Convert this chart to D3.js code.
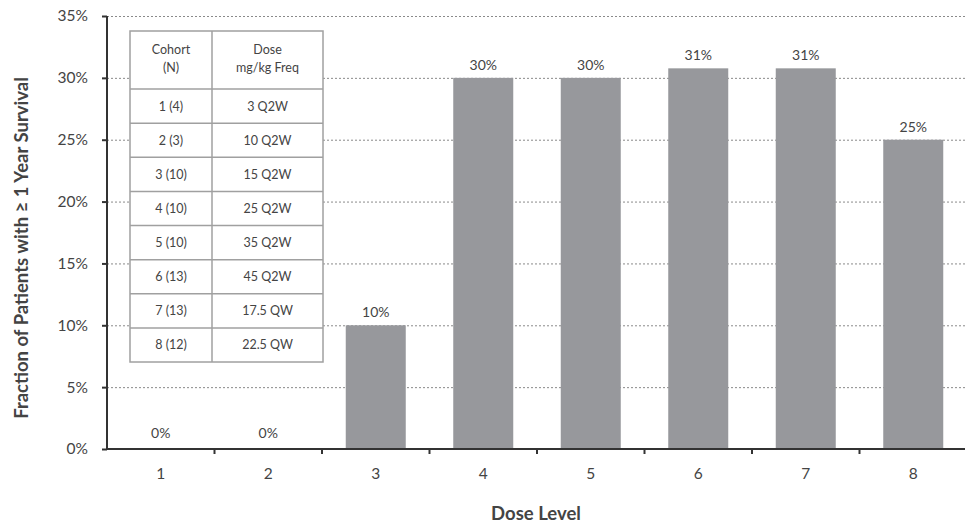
<!DOCTYPE html>
<html>
<head>
<meta charset="utf-8">
<script src="https://cdn.jsdelivr.net/npm/d3@7"></script>
<style>
  html, body { margin: 0; padding: 0; background: #fff; }
  svg { display: block; font-family: Lato, "Open Sans", sans-serif; }
</style>
</head>
<body>
<svg id="chart" width="965" height="526"></svg>
<script>
const doseLevels = ["1", "2", "3", "4", "5", "6", "7", "8"];
const survivalFraction = [0, 0, 0.10, 0.30, 0.30, 0.3077, 0.3077, 0.25];
const yTicks = [0, 0.05, 0.10, 0.15, 0.20, 0.25, 0.30, 0.35];
const tableHeader = [["Cohort", "(N)"], ["Dose", "mg/kg Freq"]];
const cohortLabels = ["1 (4)", "2 (3)", "3 (10)", "4 (10)", "5 (10)", "6 (13)", "7 (13)", "8 (12)"];
const doseLabels = ["3 Q2W", "10 Q2W", "15 Q2W", "25 Q2W", "35 Q2W", "45 Q2W", "17.5 QW", "22.5 QW"];
const xTitle = "Dose Level";
const yTitle = "Fraction of Patients with \u2265 1 Year Survival";

(function () {
const svg = d3.select("#chart");
const pLeft = 107, pRight = 967, pTop = 16, pBottom = 449;

const xb = d3.scaleBand().domain(doseLevels).range([pLeft, pRight]);
const y = d3.scaleLinear().domain([0, 0.35]).range([pBottom, pTop]);

// gridlines
svg.append("g").selectAll("line").data(yTicks.filter(d => d > 0)).join("line")
  .attr("x1", pLeft).attr("x2", 965)
  .attr("y1", d => y(d) + 0.5).attr("y2", d => y(d) + 0.5)
  .attr("stroke", "#8a8a8a").attr("stroke-width", 1).attr("stroke-dasharray", "2,2");

// bars
svg.append("g").selectAll("rect").data(doseLevels).join("rect")
  .attr("x", (d) => xb(d) + (xb.bandwidth() - 60) / 2)
  .attr("width", 60)
  .attr("y", (d, i) => y(survivalFraction[i]))
  .attr("height", (d, i) => pBottom - y(survivalFraction[i]))
  .attr("fill", "#97989c");

// bar labels
svg.append("g").selectAll("text").data(doseLevels).join("text")
  .attr("x", d => xb(d) + xb.bandwidth() / 2)
  .attr("y", (d, i) => y(survivalFraction[i]) - (survivalFraction[i] > 0 ? 8 : 11))
  .attr("text-anchor", "middle")
  .attr("font-size", 14).attr("fill", "#444")
  .text((d, i) => Math.round(survivalFraction[i] * 100) + "%");

// y axis
const yAxis = d3.axisLeft(y).tickValues(yTicks).tickFormat(d3.format(".0%")).tickSize(5).tickPadding(14);
const gy = svg.append("g").attr("transform", `translate(${pLeft},0)`).call(yAxis);
gy.select(".domain").attr("stroke", "#333").attr("stroke-width", 2).attr("d", `M0,${pTop}V${pBottom}`);
gy.selectAll(".tick line").attr("stroke", "#333").attr("stroke-width", 2);
gy.selectAll(".tick text").attr("font-size", 15.5).attr("fill", "#444").attr("font-family", "Lato, 'Open Sans', sans-serif");

// x axis
const gx = svg.append("g").attr("transform", `translate(0,${pBottom})`);
gx.append("line").attr("x1", pLeft).attr("x2", 965).attr("y1", 0).attr("y2", 0)
  .attr("stroke", "#333").attr("stroke-width", 2);
gx.selectAll("line.tk").data(doseLevels.slice(1)).join("line").attr("class", "tk")
  .attr("x1", d => xb(d)).attr("x2", d => xb(d)).attr("y1", 0).attr("y2", 5)
  .attr("stroke", "#333").attr("stroke-width", 2);
gx.selectAll("text").data(doseLevels).join("text")
  .attr("x", d => xb(d) + xb.bandwidth() / 2).attr("y", 30)
  .attr("text-anchor", "middle").attr("font-size", 15.5).attr("fill", "#444")
  .text(d => d);

// titles
svg.append("text").attr("x", 536).attr("y", 520).attr("text-anchor", "middle")
  .attr("font-size", 18.5).attr("font-weight", "bold").attr("fill", "#444").text(xTitle);
svg.append("text").attr("transform", `translate(28,248) rotate(-90)`)
  .attr("text-anchor", "middle").attr("font-size", 18.5).attr("font-weight", "bold").attr("fill", "#444")
  .text(yTitle);

// table
const tX = [130, 212, 323];
const headerTop = 31, headerBottom = 89, rowH = (362 - 89) / cohortLabels.length;
const tg = svg.append("g");
tg.append("rect").attr("x", tX[0]).attr("y", headerTop).attr("width", tX[2] - tX[0]).attr("height", 362 - headerTop)
  .attr("fill", "#fff").attr("stroke", "#a0a0a0").attr("stroke-width", 1.5);
tg.append("line").attr("x1", tX[1]).attr("x2", tX[1]).attr("y1", headerTop).attr("y2", 362)
  .attr("stroke", "#a0a0a0").attr("stroke-width", 1.5);
const rowLines = d3.range(cohortLabels.length).map(i => headerBottom + i * rowH);
tg.selectAll("line.row").data(rowLines).join("line").attr("class", "row")
  .attr("x1", tX[0]).attr("x2", tX[2]).attr("y1", d => d).attr("y2", d => d)
  .attr("stroke", "#a0a0a0").attr("stroke-width", 1.5);
tableHeader.forEach((lines, c) => {
  lines.forEach((t, k) => {
    tg.append("text").attr("x", (tX[c] + tX[c + 1]) / 2).attr("y", 54 + k * 18)
      .attr("text-anchor", "middle").attr("font-size", 12.5).attr("fill", "#444").text(t);
  });
});
[cohortLabels, doseLabels].forEach((col, c) => {
  tg.selectAll(null).data(col).join("text")
    .attr("x", (tX[c] + tX[c + 1]) / 2)
    .attr("y", (d, i) => headerBottom + i * rowH + rowH / 2 + 4.5)
    .attr("text-anchor", "middle").attr("font-size", 12.5).attr("fill", "#444").text(d => d);
});
})();
</script>
</body>
</html>
